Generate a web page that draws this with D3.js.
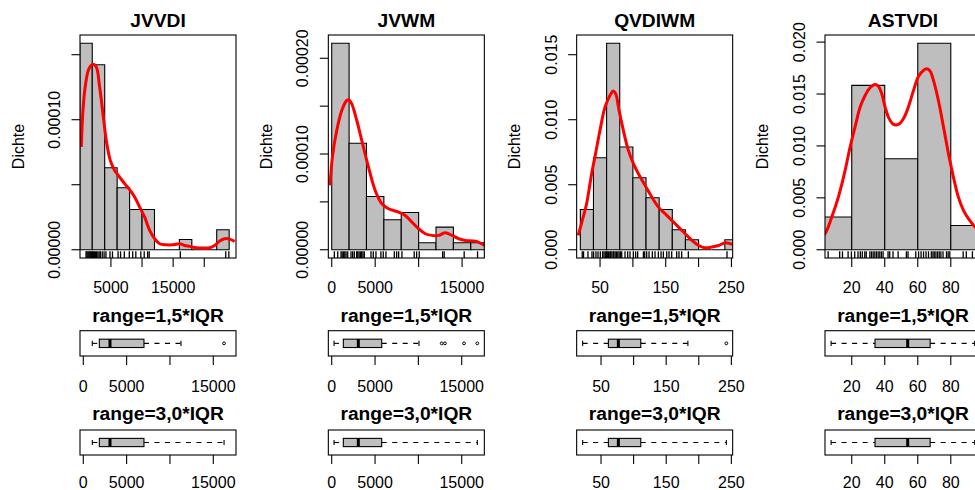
<!DOCTYPE html>
<html><head><meta charset="utf-8">
<script src="https://cdn.jsdelivr.net/npm/d3@7"></script>
<style>body{margin:0;background:#fff}svg{display:block}</style>
</head><body><svg id="c" width="975" height="490"></svg>
<script>
// ---------------- data ----------------
const titles = ["JVVDI", "JVWM", "QVDIWM", "ASTVDI"];
const boxTitles = ["range=1,5*IQR", "range=3,0*IQR"];
const yAxisLabel = "Dichte";

// histogram breaks and densities
const breaks1 = [0,2000,4000,6000,8000,10000,12000,14000,16000,18000,20000,22000,24000];
const hist1 = [1.588e-4,1.423e-4,6.31e-5,4.77e-5,3.10e-5,3.10e-5,0,0,7.9e-6,0,0,1.54e-5];
const breaks2 = [0,2000,4000,6000,8000,10000,12000,14000,16000,18000];
const hist2 = [2.157e-4,1.113e-4,5.56e-5,3.13e-5,3.89e-5,7.3e-6,2.36e-5,7.3e-6,7.3e-6];
const breaks3 = [20,40,60,80,100,120,140,160,180,200,220,240,260];
const hist3 = [0.00310,0.00708,0.01588,0.00790,0.00554,0.00400,0.00310,0.00154,0.00077,0,0,0.00077];
const breaks4 = [0,20,40,60,80,100];
const hist4 = [0.00315,0.01583,0.00876,0.01989,0.00234];

// kernel density curves (x, y)
const kdeX1 = [236,504,933,1469,2112,2648,3184,3720,4256,4899,5596,6400,7204,8008,8812,9616,10420,11224,12028,12832,13904,14976,16048,16852,17656,18728,19800,20872,21676,22480,23284,24088,24892];
const kdeY1 = [7.90e-5,1.072e-4,1.277e-4,1.392e-4,1.426e-4,1.405e-4,1.251e-4,1.046e-4,8.41e-5,6.87e-5,6.10e-5,5.59e-5,5.08e-5,4.62e-5,4.05e-5,3.28e-5,2.51e-5,1.49e-5,8.5e-6,4.6e-6,3.8e-6,3.8e-6,4.6e-6,3.3e-6,2.6e-6,1.5e-6,1.3e-6,1.5e-6,3.3e-6,6.7e-6,8.5e-6,8.2e-6,6.4e-6];
const kdeX2 = [-192,77,577,1154,1731,2000,2308,2885,3462,4231,5000,5769,6538,7692,8462,9231,10000,10769,11538,12308,13077,13846,14615,15385,16538,17615];
const kdeY2 = [6.72e-5,9.67e-5,1.246e-4,1.455e-4,1.559e-4,1.566e-4,1.524e-4,1.350e-4,1.141e-4,8.63e-5,6.19e-5,4.80e-5,4.28e-5,3.93e-5,3.58e-5,2.88e-5,2.19e-5,1.67e-5,1.50e-5,1.50e-5,1.77e-5,1.50e-5,1.15e-5,9.7e-6,9.0e-6,4.5e-6];
const kdeX3 = [16.8,21.9,29.5,37.2,42.2,49.9,57.5,65.1,70.2,73.8,78.9,85.5,93.1,100.8,108.4,118.6,128.8,138.9,149.1,159.3,169.5,179.6,189.8,200,210.2,220.4,230.5,240.7,251.9];
const kdeY3 = [0.00110,0.00205,0.00354,0.00585,0.00713,0.00918,0.01097,0.01187,0.01221,0.01200,0.01072,0.00918,0.00764,0.00662,0.00585,0.00495,0.00405,0.00328,0.00277,0.00226,0.00174,0.00123,0.00072,0.00033,0.00015,0.00021,0.00033,0.00054,0.00041];
const kdeX4 = [0,3.8,7.9,11.9,16.0,19.0,22.0,25.1,28.1,31.1,34.1,36.2,38.2,40.2,42.2,45.3,48.3,51.3,54.3,57.4,60.4,63.4,65.5,67.5,69.5,72.5,75.6,78.6,81.6,84.6,87.7,90.7,94.7,99];
const kdeY4 = [0.0010,0.00154,0.00315,0.00507,0.00764,0.00989,0.01181,0.01374,0.01486,0.01560,0.01592,0.01573,0.01502,0.01374,0.01278,0.01207,0.01207,0.01262,0.01374,0.01534,0.01669,0.01727,0.01743,0.01721,0.01631,0.01438,0.01181,0.00924,0.00700,0.00507,0.00379,0.00299,0.00218,0.0015];

// rug values
const rug1 = [1000,1150,1300,1450,1600,1750,1900,2050,2200,2350,2500,2700,2900,3100,3300,3600,3900,4200,4850,5250,6150,6550,7150,7950,8500,9000,9800,10350,10900,11150,16150,23450,23950];
const rug2 = [300,690,1070,1200,1350,1500,1650,1840,2220,2410,2600,2870,3000,3150,3300,3450,3600,3750,4520,4780,5090,5660,5930,6240,7200,7470,7700,8080,9490,9770,10070,12760,12940,15240,16780];
const rug3 = [22.9,24.9,31.6,37.7,40.2,43.8,46.9,50.4,54,56,58,60,61,63,65,66,68,70,71,73,75,77,79,81,83,88.0,92.1,95.6,100.7,104.2,107.3,116,118,121,124.6,129.6,133.7,138.8,142.9,146.4,151.5,155.0,159.1,166.7,170.2,174.3,184.4,243.3];
const rug4 = [5.7,12.7,14.4,17.8,19.8,21.8,23.8,25.2,26.4,27.9,28.8,31,32,33,34,35,36,37,38,39,42.0,43.0,45.0,48.1,53.1,54.1,58.8,60.5,62,63.5,65,66.5,68.2,69.2,70,71,72,73,74,75.3,77.4,78.4,79.4,87.5,89.4,93.1];

// axis limits and ticks (histograms)
const histXlim1 = [30,25100], histXlim2 = [-390,17560], histXlim3 = [14.4,251.9], histXlim4 = [3.8,98.3];
const histXTicks1 = [5000,10000,15000,20000], histXLabels1 = ["5000","","15000",""];
const histXTicks2 = [0,5000,10000,15000], histXLabels2 = ["0","5000","","15000"];
const histXTicks3 = [50,100,150,200,250], histXLabels3 = ["50","","150","","250"];
const histXTicks4 = [20,40,60,80], histXLabels4 = ["20","40","60","80"];
const yTicks1 = [0,5e-5,1e-4,1.5e-4], yLabels1 = ["0.00000","","0.00010",""];
const yTicks2 = [0,5e-5,1e-4,1.5e-4,2e-4], yLabels2 = ["0.00000","","0.00010","","0.00020"];
const yTicks3 = [0,0.005,0.010,0.015], yLabels3 = ["0.000","0.005","0.010","0.015"];
const yTicks4 = [0,0.005,0.010,0.015,0.020], yLabels4 = ["0.000","0.005","0.010","0.015","0.020"];

// boxplot statistics [lower whisker, Q1, median, Q3, upper whisker]
const bp15_1 = [1040,1850,3080,7000,11270], out15_1 = [16240];
const bp30_1 = [1040,1850,3080,7000,16240], out30_1 = [];
const bp15_2 = [270,1340,3070,5770,10070], out15_2 = [12690,13070,15270,16800];
const bp30_2 = [270,1340,3070,5770,16800], out30_2 = [];
const bp15_3 = [21.8,61.3,76.6,111,183.3], out15_3 = [242.3];
const bp30_3 = [21.8,61.3,76.6,111,242.3], out30_3 = [];
const bp15_4 = [7.5,34.1,53.9,67.5,94.5], out15_4 = [];
const bp30_4 = [7.5,34.1,53.9,67.5,94.5], out30_4 = [];
const bpXlim1 = [-380,17620], bpXlim2 = [-390,17610], bpXlim3 = [12.6,252], bpXlim4 = [3.8,98.3];
const bpTicks1 = [0,5000,10000,15000], bpLabels1 = ["0","5000","","15000"];
const bpTicks2 = [0,5000,10000,15000], bpLabels2 = ["0","5000","","15000"];
const bpTicks3 = [50,100,150,200,250], bpLabels3 = ["50","","150","","250"];
const bpTicks4 = [20,40,60,80], bpLabels4 = ["20","40","60","80"];

// ---------------- assemble ----------------
const panels = [
  {breaks:breaks1,hist:hist1,kx:kdeX1,ky:kdeY1,rug:rug1,xlim:histXlim1,xt:histXTicks1,xl:histXLabels1,yt:yTicks1,yl:yLabels1,
   bps:[[bp15_1,out15_1],[bp30_1,out30_1]],bpx:bpXlim1,bpt:bpTicks1,bpl:bpLabels1},
  {breaks:breaks2,hist:hist2,kx:kdeX2,ky:kdeY2,rug:rug2,xlim:histXlim2,xt:histXTicks2,xl:histXLabels2,yt:yTicks2,yl:yLabels2,
   bps:[[bp15_2,out15_2],[bp30_2,out30_2]],bpx:bpXlim2,bpt:bpTicks2,bpl:bpLabels2},
  {breaks:breaks3,hist:hist3,kx:kdeX3,ky:kdeY3,rug:rug3,xlim:histXlim3,xt:histXTicks3,xl:histXLabels3,yt:yTicks3,yl:yLabels3,
   bps:[[bp15_3,out15_3],[bp30_3,out30_3]],bpx:bpXlim3,bpt:bpTicks3,bpl:bpLabels3},
  {breaks:breaks4,hist:hist4,kx:kdeX4,ky:kdeY4,rug:rug4,xlim:histXlim4,xt:histXTicks4,xl:histXLabels4,yt:yTicks4,yl:yLabels4,
   bps:[[bp15_4,out15_4],[bp30_4,out30_4]],bpx:bpXlim4,bpt:bpTicks4,bpl:bpLabels4}
];

// ---------------- layout ----------------
const FONT = "'Liberation Sans', Arial, Helvetica, sans-serif";
const PANEL_STEP = 248.33, BOX_LEFT0 = 80, BOX_W = 156;
const H_TOP = 35, H_BOT = 258;
const BP_ROWS = [{top:330.7, bottom:356, titleY:322, labelY:391.5}, {top:430, bottom:455, titleY:420, labelY:488}];
const GREY = "#BEBEBE";

const svg = d3.select("#c");
svg.append("rect").attr("width",975).attr("height",490).attr("fill","#fff");
const defs = svg.append("defs");

panels.forEach((p, i) => {
  const L = BOX_LEFT0 + i * PANEL_STEP, R = L + BOX_W;
  const g = svg.append("g");
  const x = d3.scaleLinear().domain(p.xlim).range([L, R]);
  const M = d3.max(p.hist);
  const y = d3.scaleLinear().domain([-0.04 * M, 1.04 * M]).range([H_BOT, H_TOP]);

  const cid = "clip" + i;
  defs.append("clipPath").attr("id", cid).append("rect")
    .attr("x", L).attr("y", H_TOP).attr("width", BOX_W).attr("height", H_BOT - H_TOP);
  const clipped = g.append("g").attr("clip-path", `url(#${cid})`);

  // bars
  clipped.selectAll("path.bar").data(p.hist).join("path").attr("class","bar")
    .attr("d", (d, k) => {
      const x0 = x(p.breaks[k]), x1 = x(p.breaks[k+1]), y0 = y(0), y1 = y(d);
      return `M${x0},${y0}V${y1}H${x1}V${y0}Z`;
    })
    .attr("fill", GREY).attr("stroke", "#000").attr("stroke-width", 1.1);

  // density curve
  const pts = p.kx.map((v, k) => [v, p.ky[k]]);
  clipped.append("path").datum(pts)
    .attr("d", d3.line().x(d => x(d[0])).y(d => y(d[1])).curve(d3.curveCatmullRom))
    .attr("fill", "none").attr("stroke", "#FF0000").attr("stroke-width", 3)
    .attr("stroke-linejoin","round");

  // rug
  const rugLen = 0.03 * (H_BOT - H_TOP);
  g.selectAll("line.rug").data(p.rug).join("line").attr("class","rug")
    .attr("x1", d => x(d)).attr("x2", d => x(d))
    .attr("y1", H_BOT).attr("y2", H_BOT - rugLen)
    .attr("stroke", "#000").attr("stroke-width", 1.3);

  // frame
  g.append("rect").attr("x", L).attr("y", H_TOP).attr("width", BOX_W).attr("height", H_BOT - H_TOP)
    .attr("fill", "none").attr("stroke", "#000").attr("stroke-width", 1.1);

  // x axis ticks + labels
  p.xt.forEach((t, k) => {
    g.append("line").attr("x1", x(t)).attr("x2", x(t)).attr("y1", H_BOT).attr("y2", H_BOT + 9)
      .attr("stroke", "#000").attr("stroke-width", 1.1);
    if (p.xl[k]) g.append("text").attr("x", x(t)).attr("y", H_BOT + 35)
      .attr("text-anchor", "middle").attr("font-family", FONT).attr("font-size", 16)
      .text(p.xl[k]);
  });
  // y axis ticks + labels
  p.yt.forEach((t, k) => {
    g.append("line").attr("x1", L - 8.5).attr("x2", L).attr("y1", y(t)).attr("y2", y(t))
      .attr("stroke", "#000").attr("stroke-width", 1.1);
    if (p.yl[k]) g.append("text")
      .attr("transform", `translate(${L - 20},${y(t)}) rotate(-90)`)
      .attr("text-anchor", "middle").attr("font-family", FONT).attr("font-size", 16)
      .text(p.yl[k]);
  });
  // y label
  g.append("text").attr("transform", `translate(${L - 56.5},${(H_TOP + H_BOT) / 2}) rotate(-90)`)
    .attr("text-anchor", "middle").attr("font-family", FONT).attr("font-size", 16)
    .text(yAxisLabel);
  // title
  g.append("text").attr("x", (L + R) / 2).attr("y", 27).attr("text-anchor", "middle")
    .attr("font-family", FONT).attr("font-size", 19.2).attr("font-weight", "bold")
    .text(titles[i]);

  // boxplots
  const bx = d3.scaleLinear().domain(p.bpx).range([L, R]);
  p.bps.forEach(([st, outs], r) => {
    const row = BP_ROWS[r];
    const by = d3.scaleLinear().domain([0.5, 1.5]).range([row.bottom, row.top]);
    const bg = g.append("g");
    const cy = by(1);
    // whiskers
    [[st[0], st[1]], [st[3], st[4]]].forEach(([a, b]) => {
      bg.append("line").attr("x1", bx(a)).attr("x2", bx(b)).attr("y1", cy).attr("y2", cy)
        .attr("stroke", "#000").attr("stroke-width", 1.1).attr("stroke-dasharray", "5,5.5");
    });
    [st[0], st[4]].forEach(v => {
      bg.append("line").attr("x1", bx(v)).attr("x2", bx(v)).attr("y1", by(0.9)).attr("y2", by(1.1))
        .attr("stroke", "#000").attr("stroke-width", 1.1);
    });
    // IQR box
    bg.append("rect").attr("x", bx(st[1])).attr("width", bx(st[3]) - bx(st[1]))
      .attr("y", by(1.165)).attr("height", by(0.835) - by(1.165))
      .attr("fill", GREY).attr("stroke", "#000").attr("stroke-width", 1.1);
    // median
    bg.append("line").attr("x1", bx(st[2])).attr("x2", bx(st[2]))
      .attr("y1", by(1.165)).attr("y2", by(0.835)).attr("stroke", "#000").attr("stroke-width", 3);
    // outliers
    bg.selectAll("circle").data(outs).join("circle")
      .attr("cx", d => bx(d)).attr("cy", cy).attr("r", 1.4)
      .attr("fill", "none").attr("stroke", "#000").attr("stroke-width", 1);
    // frame
    bg.append("rect").attr("x", L).attr("y", row.top).attr("width", BOX_W).attr("height", row.bottom - row.top)
      .attr("fill", "none").attr("stroke", "#000").attr("stroke-width", 1.1);
    // axis
    p.bpt.forEach((t, k) => {
      bg.append("line").attr("x1", bx(t)).attr("x2", bx(t)).attr("y1", row.bottom).attr("y2", row.bottom + 9)
        .attr("stroke", "#000").attr("stroke-width", 1.1);
      if (p.bpl[k]) bg.append("text").attr("x", bx(t)).attr("y", row.labelY)
        .attr("text-anchor", "middle").attr("font-family", FONT).attr("font-size", 16)
        .text(p.bpl[k]);
    });
    // title
    bg.append("text").attr("x", (L + R) / 2).attr("y", row.titleY).attr("text-anchor", "middle")
      .attr("font-family", FONT).attr("font-size", 19.2).attr("font-weight", "bold")
      .text(boxTitles[r]);
  });
});
</script>
</body></html>
